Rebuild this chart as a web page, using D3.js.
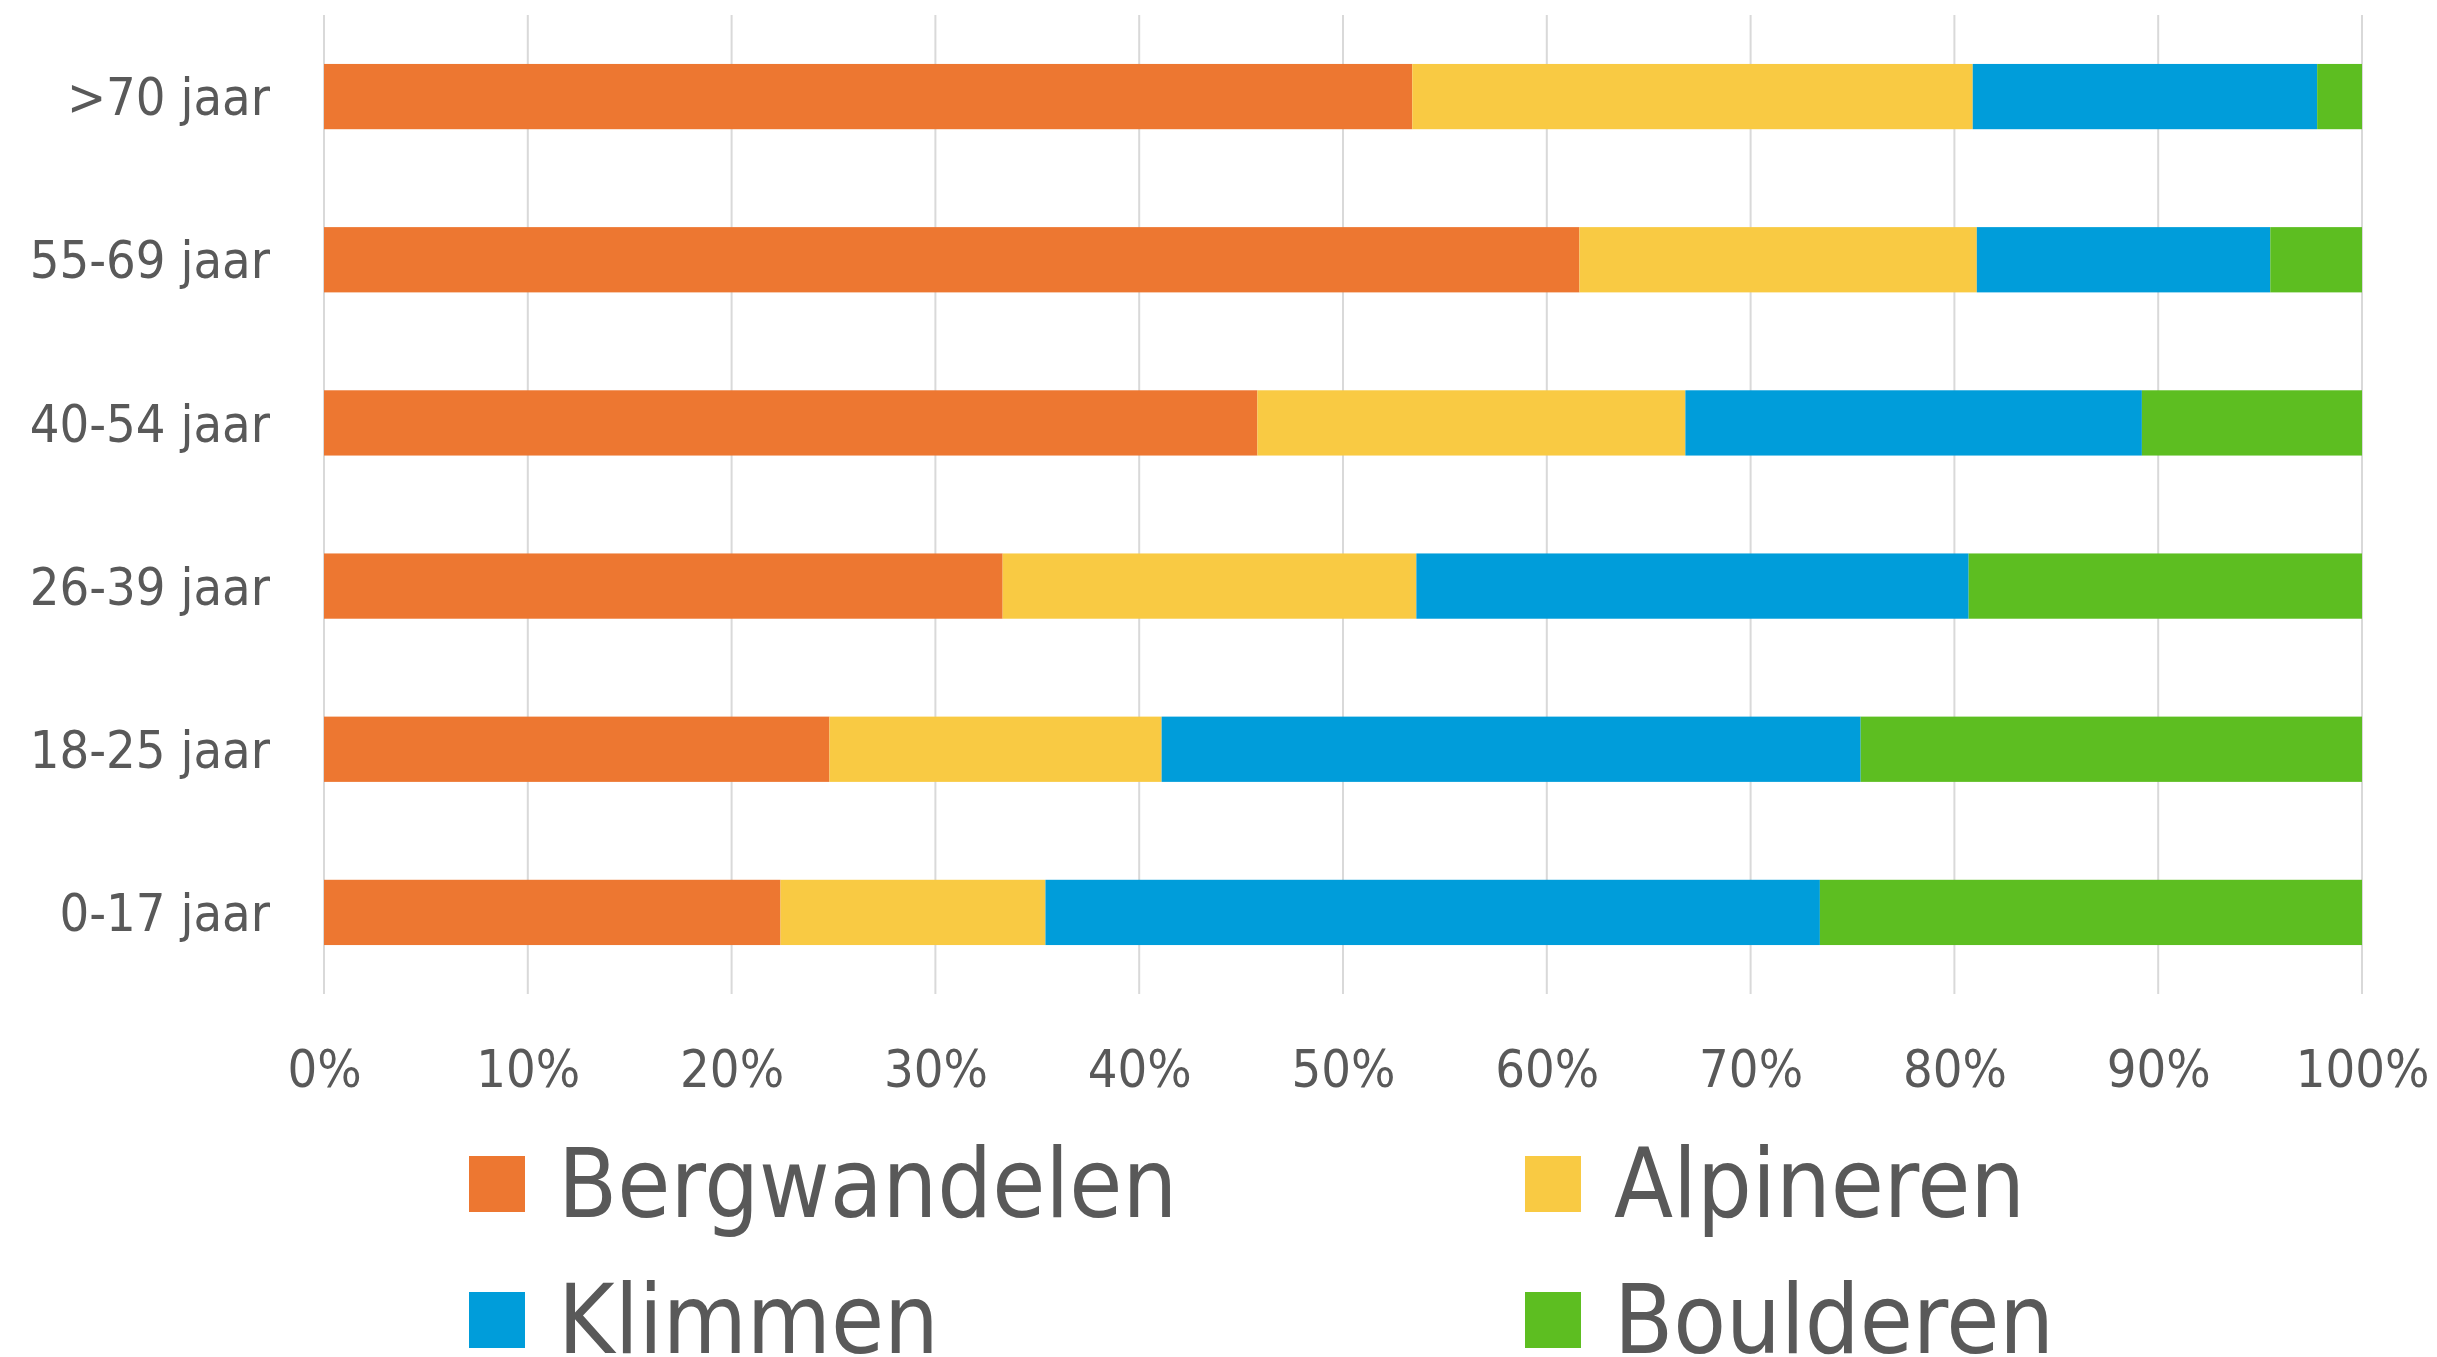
<!DOCTYPE html>
<html>
<head>
<meta charset="utf-8">
<script src="https://cdn.jsdelivr.net/npm/d3@7"></script>
<style>
  html, body { margin: 0; padding: 0; background: #fff; }
  svg { display: block; }
  text { font-family: "DejaVu Sans Condensed", "DejaVu Sans", sans-serif; font-stretch: condensed; fill: #595959; }
</style>
</head>
<body>
<svg id="chart"></svg>
<script>
const WIDTH = 2437;
const HEIGHT = 1357;

// age groups, top to bottom
const categories = [">70 jaar", "55-69 jaar", "40-54 jaar", "26-39 jaar", "18-25 jaar", "0-17 jaar"];
const seriesNames = ["Bergwandelen", "Alpineren", "Klimmen", "Boulderen"];
const seriesColors = ["#ED7731", "#F9CA43", "#009DDA", "#5DBE21"];

// shares in % per age group (same order as categories)
const bergwandelen = [53.4, 61.6, 45.8, 33.3, 24.8, 22.4];
const alpineren    = [27.5, 19.5, 21.0, 20.3, 16.3, 13.0];
const klimmen      = [16.9, 14.4, 22.4, 27.1, 34.3, 38.0];
const boulderen    = [2.2,  4.5,  10.8, 19.3, 24.6, 26.6];

const xTicks = [0, 10, 20, 30, 40, 50, 60, 70, 80, 90, 100];

const X0 = 324, X1 = 2362;
const Y0 = 15, Y1 = 994;

function main(){
    var svg = d3.select("#chart")
        .attr("width", WIDTH)
        .attr("height", HEIGHT);

    var rows = categories.map((c, i) => ({
        cat: c,
        Bergwandelen: bergwandelen[i],
        Alpineren: alpineren[i],
        Klimmen: klimmen[i],
        Boulderen: boulderen[i]
    }));

    var x = d3.scaleLinear().domain([0, 100]).range([X0, X1]);
    var y = d3.scaleBand().domain(categories).range([Y0, Y1])
        .paddingInner(0.6).paddingOuter(0.3);
    var color = d3.scaleOrdinal().domain(seriesNames).range(seriesColors);

    // gridlines
    svg.append("g")
        .selectAll("line")
        .data(xTicks)
        .join("line")
        .attr("x1", d => x(d)).attr("x2", d => x(d))
        .attr("y1", Y0).attr("y2", Y1)
        .attr("stroke", "#d9d9d9")
        .attr("stroke-width", 2);

    var stacked = d3.stack().keys(seriesNames)(rows);

    svg.append("g")
        .selectAll("g")
        .data(stacked)
        .join("g")
        .attr("fill", d => color(d.key))
        .selectAll("rect")
        .data(d => d)
        .join("rect")
        .attr("x", d => x(d[0]))
        .attr("width", d => x(d[1]) - x(d[0]))
        .attr("y", d => y(d.data.cat))
        .attr("height", y.bandwidth());

    // x axis labels
    var xAxis = d3.axisBottom(x)
        .tickValues(xTicks)
        .tickFormat(d => d + "%")
        .tickSize(0)
        .tickPadding(0);
    var gx = svg.append("g")
        .attr("transform", "translate(0,1087)")
        .call(xAxis);
    gx.select(".domain").remove();
    gx.selectAll("text")
        .attr("dy", 0)
        .attr("y", 0)
        .style("font-size", "52px")
        .attr("fill", "#595959");

    // y axis labels
    var yAxis = d3.axisLeft(y).tickSize(0).tickPadding(0);
    var gy = svg.append("g")
        .attr("transform", "translate(270,0)")
        .call(yAxis);
    gy.select(".domain").remove();
    gy.selectAll("text")
        .attr("dy", "0.36em")
        .style("font-size", "52px")
        .attr("fill", "#595959");
    gy.attr("font-family", null);
    gx.attr("font-family", null);

    // legend
    var legendPos = [[469, 1156], [1525, 1156], [469, 1292], [1525, 1292]];
    var legend = svg.append("g")
        .selectAll("g")
        .data(seriesNames)
        .join("g")
        .attr("transform", (d, i) => "translate(" + legendPos[i][0] + "," + legendPos[i][1] + ")");
    legend.append("rect")
        .attr("width", 56).attr("height", 56)
        .attr("fill", d => color(d));
    legend.append("text")
        .attr("x", 89)
        .attr("y", 61)
        .style("font-size", "96px")
        .text(d => d);
}

main();
</script>
</body>
</html>
